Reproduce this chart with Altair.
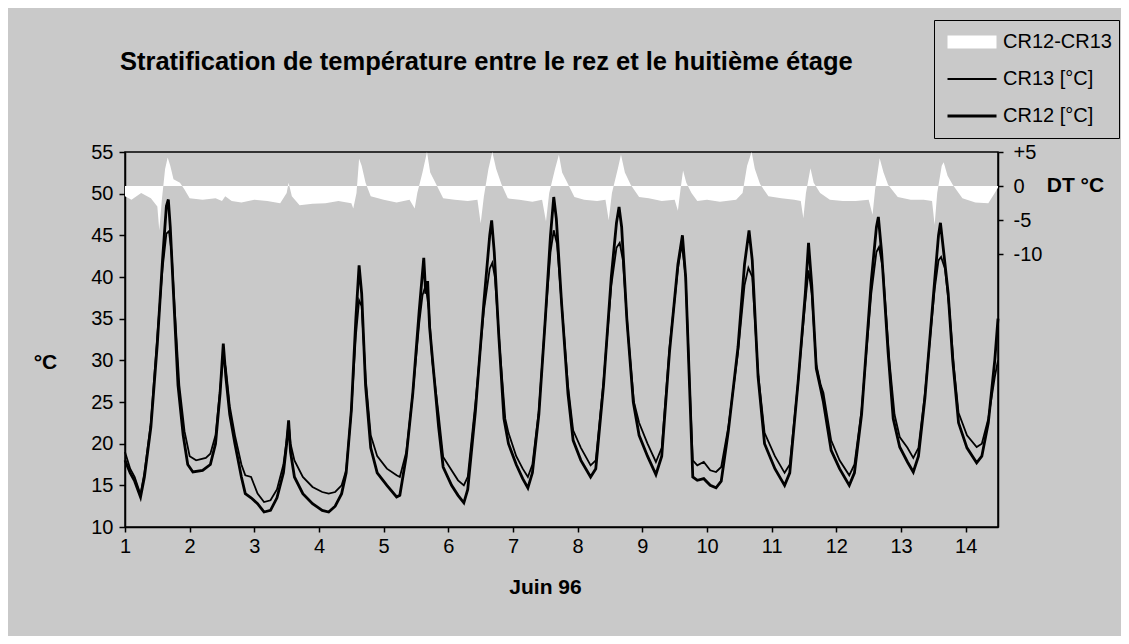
import altair as alt
import pandas as pd

# ---- data ----
series_names = ["CR12-CR13", "CR13 [°C]", "CR12 [°C]"]
series_colors = ["#ffffff", "#000000", "#000000"]
series_widths = [13, 1.8, 2.8]
x_ticks = list(range(1, 15))
t_ticks = list(range(10, 56, 5))
dt_ticks = [5, 0, -5, -10]

cr12_points = [
    (1.00, 18.0), (1.08, 16.5), (1.15, 15.5), (1.24, 13.6), (1.30, 16.0), (1.40, 22.0),
    (1.50, 32.0), (1.58, 42.0), (1.64, 48.5), (1.67, 49.3), (1.70, 46.0), (1.75, 38.0),
    (1.82, 27.0), (1.90, 21.0), (1.97, 17.5), (2.05, 16.6), (2.20, 16.8), (2.32, 17.5),
    (2.40, 20.0), (2.47, 26.0), (2.52, 32.0), (2.56, 28.0), (2.62, 23.5), (2.70, 20.0),
    (2.80, 16.0), (2.86, 14.0), (2.95, 13.5), (3.05, 12.8), (3.15, 11.8), (3.25, 12.0),
    (3.35, 13.5), (3.45, 16.5), (3.50, 20.0), (3.53, 22.8), (3.56, 19.0), (3.62, 16.0),
    (3.75, 14.0), (3.90, 12.8), (4.05, 12.0), (4.15, 11.8), (4.25, 12.5), (4.35, 14.0),
    (4.42, 16.5), (4.50, 24.0), (4.57, 35.0), (4.62, 41.4), (4.66, 38.0), (4.72, 27.0),
    (4.80, 19.5), (4.90, 16.5), (5.05, 15.0), (5.20, 13.6), (5.25, 13.8), (5.35, 18.5),
    (5.45, 26.0), (5.55, 36.0), (5.62, 42.3), (5.65, 38.0), (5.68, 39.5), (5.71, 34.0),
    (5.78, 28.0), (5.85, 22.0), (5.92, 17.2), (6.05, 15.0), (6.15, 13.8), (6.24, 12.9),
    (6.30, 14.5), (6.42, 24.0), (6.55, 37.0), (6.64, 45.0), (6.67, 46.8), (6.71, 43.0),
    (6.78, 33.0), (6.86, 23.0), (6.93, 20.0), (7.05, 17.5), (7.15, 15.8), (7.23, 14.7),
    (7.30, 16.5), (7.40, 23.5), (7.50, 35.0), (7.58, 45.0), (7.63, 49.6), (7.67, 47.0),
    (7.75, 37.0), (7.85, 26.0), (7.93, 20.4), (8.05, 18.0), (8.20, 16.0), (8.28, 17.0),
    (8.40, 27.0), (8.52, 40.0), (8.60, 46.5), (8.64, 48.4), (8.68, 46.0), (8.76, 35.0),
    (8.86, 25.0), (8.95, 21.0), (9.08, 18.5), (9.21, 16.3), (9.30, 18.5), (9.42, 31.0),
    (9.55, 41.5), (9.62, 45.0), (9.67, 40.0), (9.73, 27.0), (9.78, 16.0), (9.85, 15.6),
    (9.95, 15.8), (10.05, 15.0), (10.14, 14.7), (10.22, 15.5), (10.33, 21.5), (10.48, 31.6),
    (10.58, 41.5), (10.65, 45.6), (10.70, 42.0), (10.79, 28.0), (10.89, 20.0), (11.05, 17.0),
    (11.20, 15.0), (11.28, 16.5), (11.41, 27.5), (11.52, 38.0), (11.57, 44.1), (11.62, 39.0),
    (11.69, 29.0), (11.76, 26.5), (11.80, 25.0), (11.92, 19.2), (12.05, 17.0), (12.20, 15.0),
    (12.28, 16.5), (12.39, 23.5), (12.54, 39.5), (12.62, 46.0), (12.65, 47.2), (12.70, 43.0),
    (12.80, 31.0), (12.88, 23.0), (12.98, 19.6), (13.10, 17.8), (13.19, 16.6), (13.27, 18.5),
    (13.37, 25.5), (13.52, 39.5), (13.58, 45.0), (13.61, 46.5), (13.66, 43.0), (13.73, 38.0),
    (13.80, 30.0), (13.89, 22.5), (14.02, 19.5), (14.17, 17.7), (14.25, 18.5), (14.35, 22.5),
    (14.45, 30.0), (14.50, 35.0),
]

cr13_points = [
    (1.00, 19.0), (1.08, 17.0), (1.15, 16.0), (1.24, 13.9), (1.30, 16.5), (1.40, 22.5),
    (1.50, 33.0), (1.58, 41.0), (1.64, 45.2), (1.68, 45.5), (1.72, 43.0), (1.77, 36.0),
    (1.84, 27.0), (1.92, 21.5), (2.00, 18.5), (2.10, 18.0), (2.25, 18.3), (2.32, 18.8),
    (2.40, 21.0), (2.47, 26.5), (2.52, 30.5), (2.56, 29.0), (2.62, 24.5), (2.70, 21.0),
    (2.80, 17.5), (2.86, 16.2), (2.95, 16.0), (3.05, 14.0), (3.15, 13.0), (3.25, 13.2),
    (3.35, 14.5), (3.45, 17.5), (3.50, 20.5), (3.53, 22.5), (3.56, 20.0), (3.62, 18.0),
    (3.75, 16.0), (3.90, 14.8), (4.05, 14.2), (4.15, 14.0), (4.25, 14.2), (4.35, 15.0),
    (4.42, 16.8), (4.50, 24.0), (4.57, 33.0), (4.62, 37.2), (4.66, 36.5), (4.72, 28.0),
    (4.80, 21.0), (4.90, 18.5), (5.05, 17.0), (5.20, 16.2), (5.25, 16.0), (5.35, 19.0),
    (5.45, 26.0), (5.55, 34.5), (5.60, 37.8), (5.65, 39.0), (5.70, 36.0), (5.75, 30.0),
    (5.85, 23.5), (5.92, 18.4), (6.05, 16.8), (6.15, 15.6), (6.24, 15.0), (6.30, 16.0),
    (6.42, 25.0), (6.55, 36.0), (6.64, 41.0), (6.68, 41.7), (6.72, 40.0), (6.80, 31.0),
    (6.88, 23.0), (6.93, 21.3), (7.05, 18.5), (7.15, 17.0), (7.23, 16.0), (7.30, 17.5),
    (7.40, 24.0), (7.50, 35.0), (7.58, 43.0), (7.63, 45.6), (7.68, 44.0), (7.76, 36.0),
    (7.85, 27.0), (7.93, 21.6), (8.05, 19.5), (8.20, 17.4), (8.28, 18.0), (8.40, 27.5),
    (8.52, 39.0), (8.60, 43.5), (8.65, 44.1), (8.70, 42.0), (8.78, 33.0), (8.87, 25.0),
    (8.95, 22.5), (9.08, 20.0), (9.21, 17.8), (9.30, 19.5), (9.42, 31.5), (9.55, 41.0),
    (9.61, 44.0), (9.67, 40.0), (9.73, 27.5), (9.78, 18.0), (9.85, 17.4), (9.95, 17.8),
    (10.05, 16.8), (10.14, 16.6), (10.22, 17.2), (10.33, 22.0), (10.48, 31.0), (10.58, 39.0),
    (10.64, 41.1), (10.70, 40.0), (10.79, 28.5), (10.89, 21.3), (11.05, 18.5), (11.20, 16.5),
    (11.28, 17.5), (11.41, 27.5), (11.52, 37.0), (11.57, 40.8), (11.62, 38.0), (11.69, 29.5),
    (11.76, 27.0), (11.80, 26.1), (11.92, 20.4), (12.05, 18.0), (12.20, 16.2), (12.28, 17.5),
    (12.39, 24.0), (12.54, 38.0), (12.62, 43.0), (12.66, 43.6), (12.72, 41.0), (12.82, 30.0),
    (12.90, 23.5), (12.98, 20.8), (13.10, 19.5), (13.19, 18.3), (13.27, 19.5), (13.37, 26.0),
    (13.52, 38.5), (13.58, 42.0), (13.62, 42.4), (13.68, 41.0), (13.75, 36.0), (13.82, 29.0),
    (13.89, 23.7), (14.02, 21.0), (14.17, 19.6), (14.25, 20.0), (14.35, 23.0), (14.45, 28.0),
    (14.50, 30.0),
]

dt_points = [
    (1.00, -1.5), (1.10, -2.0), (1.25, -1.0), (1.40, -1.8), (1.50, -3.0), (1.53, -6.5),
    (1.57, -2.0), (1.62, 2.5), (1.66, 4.2), (1.70, 3.0), (1.75, 1.0), (1.85, 0.5),
    (1.92, -0.5), (2.00, -1.8), (2.20, -2.0), (2.40, -1.8), (2.50, -2.2), (2.55, -1.5),
    (2.65, -2.2), (2.80, -2.4), (3.00, -2.0), (3.20, -2.2), (3.40, -2.5), (3.50, -1.0),
    (3.53, 0.5), (3.58, -1.5), (3.70, -2.8), (3.90, -2.6), (4.10, -2.5), (4.30, -2.2),
    (4.50, -2.5), (4.53, -3.3), (4.58, -1.0), (4.62, 4.0), (4.66, 3.0), (4.72, 0.5),
    (4.80, -1.5), (5.00, -2.0), (5.20, -2.4), (5.40, -2.0), (5.48, -3.3), (5.52, -1.0),
    (5.60, 2.0), (5.67, 5.0), (5.72, 2.0), (5.80, 0.5), (5.92, -1.8), (6.10, -2.0),
    (6.30, -2.2), (6.45, -2.0), (6.50, -5.5), (6.55, -1.5), (6.62, 2.5), (6.68, 5.0),
    (6.74, 2.5), (6.82, 0.3), (6.92, -1.8), (7.10, -2.0), (7.30, -2.3), (7.45, -2.0),
    (7.51, -5.2), (7.56, -1.0), (7.65, 2.5), (7.71, 4.6), (7.76, 2.0), (7.85, 0.3),
    (7.95, -1.6), (8.10, -2.0), (8.30, -2.2), (8.43, -2.0), (8.48, -5.0), (8.53, -1.0),
    (8.62, 2.5), (8.67, 4.6), (8.73, 2.0), (8.82, 0.2), (8.95, -1.6), (9.10, -1.8),
    (9.30, -2.2), (9.50, -2.0), (9.55, -3.6), (9.59, -0.5), (9.63, 2.3), (9.68, 0.5),
    (9.76, -1.0), (9.85, -2.2), (10.00, -2.0), (10.20, -2.3), (10.45, -2.0), (10.55, -1.0),
    (10.62, 3.0), (10.69, 5.0), (10.74, 2.5), (10.82, 0.3), (10.95, -1.5), (11.15, -1.8),
    (11.35, -2.0), (11.45, -2.2), (11.49, -4.7), (11.53, -1.0), (11.60, 2.6), (11.65, 0.5),
    (11.75, -1.0), (11.90, -2.0), (12.10, -2.2), (12.30, -2.2), (12.50, -2.0), (12.56, -4.2),
    (12.60, -0.5), (12.67, 4.1), (12.73, 2.0), (12.80, 0.2), (12.95, -1.6), (13.15, -2.0),
    (13.35, -2.0), (13.48, -2.2), (13.52, -5.7), (13.56, -1.0), (13.63, 3.0), (13.66, 3.5),
    (13.72, 1.5), (13.80, 0.2), (13.95, -1.8), (14.15, -2.4), (14.35, -2.5), (14.45, -1.0),
    (14.50, -0.2),
]

# ---- tables ----
lines_df = pd.concat([
    pd.DataFrame(cr13_points, columns=["day", "temp"]).assign(series="CR13 [°C]"),
    pd.DataFrame(cr12_points, columns=["day", "temp"]).assign(series="CR12 [°C]"),
])
dt_df = pd.DataFrame(dt_points, columns=["day", "dt"])

FONT = "Liberation Sans"

x_enc = alt.X(
    "day:Q",
    scale=alt.Scale(domain=[1, 14.5], nice=False, zero=False),
    axis=alt.Axis(values=x_ticks, title="Juin 96", titleX=420, titleY=60,
                  titleBaseline="middle", titleAnchor="start", titleAlign="center",
                  labelPadding=4, tickSize=5, labelFlush=False),
)

area = alt.Chart(dt_df).mark_area(color="#ffffff", opacity=1).encode(
    x=x_enc,
    y=alt.Y(
        "dt:Q",
        scale=alt.Scale(domain=[-50, 5], nice=False, zero=False),
        axis=alt.Axis(orient="right", values=dt_ticks, title="DT °C",
                      labelExpr="datum.value > 0 ? '+' + datum.value : '' + datum.value",
                      titleAngle=0, titleX=77, titleY=33, titleAlign="center",
                      titleBaseline="middle", labelPadding=10, tickSize=5),
    ),
    y2=alt.datum(0),
)

lines = alt.Chart(lines_df).mark_line().encode(
    x=x_enc,
    y=alt.Y(
        "temp:Q",
        scale=alt.Scale(domain=[10, 55], nice=False, zero=False),
        axis=alt.Axis(orient="left", values=t_ticks, title="°C",
                      titleAngle=0, titleX=-80, titleY=210, titleAlign="center",
                      titleBaseline="middle", labelPadding=6, tickSize=6),
    ),
    color=alt.Color(
        "series:N",
        scale=alt.Scale(type="ordinal", domain=series_names, range=series_colors),
        title=None,
    ),
    strokeWidth=alt.StrokeWidth(
        "series:N",
        scale=alt.Scale(type="ordinal", domain=series_names, range=series_widths),
        title=None,
    ),
)

chart = (
    alt.layer(area, lines)
    .resolve_scale(y="independent")
    .properties(
        width=873,
        height=375,
        autosize=alt.AutoSizeParams(type="none"),
        padding={"left": 117, "top": 144, "right": 123, "bottom": 109},
        title=alt.TitleParams(
            text="Stratification de température entre le rez et le huitième étage",
            anchor="start", frame="group", font=FONT, fontSize=25.5, fontWeight="bold",
            color="black", dx=-5, offset=-76, baseline="alphabetic",
        ),
    )
    .configure(background="#c9c9c9", font=FONT)
    .configure_view(stroke="black", strokeWidth=1.5)
    .configure_axis(
        grid=False, domainColor="black", domainWidth=1.5, tickColor="black",
        tickWidth=1.5, labelColor="black", labelFont=FONT, labelFontSize=20,
        titleFont=FONT, titleFontSize=21, titleFontWeight="bold", titleColor="black",
    )
    .configure_legend(
        orient="none", legendX=809, legendY=-132, strokeColor="black", padding=7,
        labelFont=FONT, labelFontSize=20, labelColor="black", symbolType="stroke",
        symbolSize=2401, clipHeight=30, rowPadding=7, labelOffset=0,
    )
)

chart.save("out.html", embed_options={"renderer": "svg", "actions": False})
